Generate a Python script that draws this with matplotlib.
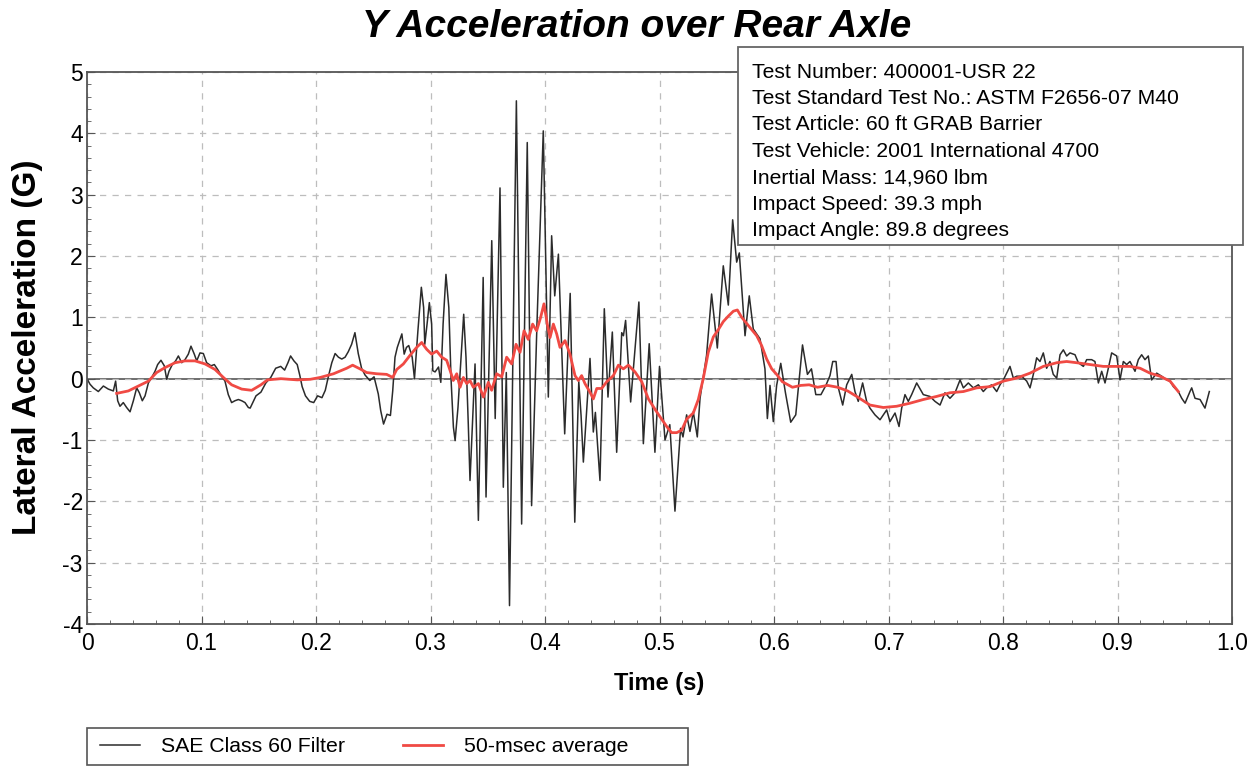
import matplotlib
matplotlib.use("Agg")
import matplotlib.pyplot as plt
from matplotlib.patches import Rectangle
from matplotlib.ticker import MultipleLocator

plt.rcParams['font.family'] = ['Liberation Sans', 'DejaVu Sans']

# SAE Class 60 filtered trace (time s, lateral accel G)
black_t = [0.000, 0.0026, 0.0055, 0.0099, 0.0143, 0.0186, 0.0230, 0.0250, 0.0268, 0.0288,
           0.0317, 0.0346, 0.0376, 0.0405, 0.0434, 0.0457, 0.0483, 0.0507, 0.0536, 0.0565,
           0.0594, 0.0617, 0.0646, 0.0675, 0.0696, 0.0716, 0.0745, 0.0774, 0.0798, 0.0827,
           0.0856, 0.0885, 0.0908, 0.0937, 0.0958, 0.0987, 0.1016, 0.1045, 0.1083, 0.1112,
           0.1141, 0.1176, 0.1205, 0.1234, 0.1263, 0.1292, 0.1322, 0.1351, 0.1380, 0.1409,
           0.1425, 0.1476, 0.1519, 0.1562, 0.1605, 0.1648, 0.1692, 0.1726, 0.1755, 0.1778,
           0.1807, 0.1836, 0.1859, 0.1879, 0.1908, 0.1945, 0.1980, 0.2014, 0.2052, 0.2081,
           0.2110, 0.2138, 0.2167, 0.2196, 0.2225, 0.2254, 0.2282, 0.2311, 0.2340, 0.2369,
           0.2398, 0.2428, 0.2470, 0.2507, 0.2544, 0.2565, 0.2590, 0.2620, 0.2650, 0.2670,
           0.2690, 0.2710, 0.2750, 0.2770, 0.2790, 0.2810, 0.2840, 0.2860, 0.2890, 0.2920,
           0.2940, 0.2950, 0.2970, 0.2990, 0.3010, 0.3020, 0.3040, 0.3070, 0.3090, 0.3110,
           0.3135, 0.3160, 0.3180, 0.3200, 0.3215, 0.3240, 0.3290, 0.3310, 0.3330, 0.3345,
           0.3370, 0.3389, 0.3418, 0.3460, 0.3485, 0.3535, 0.3565, 0.3607, 0.3636, 0.3662,
           0.3690, 0.3750, 0.3796, 0.3845, 0.3883, 0.3930, 0.3985, 0.4029, 0.4058, 0.4085,
           0.4117, 0.4172, 0.4220, 0.4260, 0.4295, 0.4315, 0.4335, 0.4393, 0.4422, 0.4440,
           0.4480, 0.4518, 0.4550, 0.4588, 0.4626, 0.4670, 0.4685, 0.4704, 0.4748, 0.4820,
           0.4859, 0.4910, 0.4960, 0.5000, 0.5048, 0.5090, 0.5135, 0.5184, 0.5205, 0.5237,
           0.5266, 0.5295, 0.5330, 0.5354, 0.5411, 0.5455, 0.5505, 0.5557, 0.5601, 0.5639,
           0.5674, 0.5697, 0.5747, 0.5784, 0.5819, 0.5878, 0.5921, 0.5942, 0.5965, 0.5994,
           0.6023, 0.6059, 0.6100, 0.6146, 0.6190, 0.6249, 0.6292, 0.6327, 0.6365, 0.6410,
           0.6453, 0.6489, 0.6513, 0.6542, 0.6562, 0.6600, 0.6635, 0.6679, 0.6707, 0.6736,
           0.6774, 0.6809, 0.6838, 0.6882, 0.6926, 0.6955, 0.6984, 0.7013, 0.7057, 0.7092,
           0.7115, 0.7144, 0.7173, 0.7202, 0.7246, 0.7304, 0.7362, 0.7406, 0.7450, 0.7493,
           0.7537, 0.7581, 0.7625, 0.7654, 0.7697, 0.7741, 0.7785, 0.7828, 0.7857, 0.7901,
           0.7945, 0.7974, 0.8003, 0.8061, 0.8090, 0.8120, 0.8163, 0.8207, 0.8236, 0.8265,
           0.8294, 0.8323, 0.8352, 0.8381, 0.8410, 0.8439, 0.8469, 0.8498, 0.8527, 0.8556,
           0.8585, 0.8629, 0.8658, 0.8702, 0.8731, 0.8774, 0.8803, 0.8833, 0.8862, 0.8891,
           0.8920, 0.8949, 0.8993, 0.9022, 0.9051, 0.9080, 0.9109, 0.9153, 0.9182, 0.9211,
           0.9240, 0.9269, 0.9298, 0.9342, 0.9386, 0.9430, 0.9459, 0.9488, 0.9531, 0.9561,
           0.9590, 0.9633, 0.9648, 0.9677, 0.9721, 0.9764, 0.9802]
black_g = [0.00, -0.09, -0.15, -0.21, -0.12, -0.17, -0.20, -0.04, -0.36, -0.45,
           -0.39, -0.47, -0.54, -0.36, -0.15, -0.23, -0.36, -0.28, -0.07, 0.02,
           0.12, 0.23, 0.30, 0.21, -0.01, 0.12, 0.23, 0.29, 0.37, 0.26,
           0.31, 0.40, 0.53, 0.40, 0.29, 0.42, 0.41, 0.26, 0.21, 0.23,
           0.15, 0.04, -0.04, -0.26, -0.39, -0.36, -0.34, -0.36, -0.39, -0.47,
           -0.48, -0.28, -0.22, -0.07, 0.02, 0.17, 0.20, 0.14, 0.26, 0.37,
           0.29, 0.23, 0.05, -0.13, -0.28, -0.37, -0.39, -0.28, -0.31, -0.19,
           0.05, 0.26, 0.41, 0.35, 0.32, 0.35, 0.44, 0.56, 0.75, 0.41,
           0.17, 0.06, -0.03, 0.03, -0.25, -0.52, -0.74, -0.58, -0.60, -0.20,
           0.35, 0.51, 0.73, 0.40, 0.51, 0.54, 0.35, 0.00, 0.78, 1.49,
           1.16, 0.56, 0.89, 1.24, 0.89, 0.13, 0.11, 0.19, -0.06, 0.89,
           1.70, 1.16, -0.03, -0.79, -1.01, -0.47, 1.05, 0.35, -0.74, -1.66,
           -0.60, 0.24, -2.31, 1.65, -1.93, 2.25, -0.65, 3.11, -1.77, 0.10,
           -3.70, 4.53, -2.37, 3.85, -2.07, 0.90, 4.04, -0.30, 2.33, 1.35,
           2.03, -0.90, 1.39, -2.34, -0.05, -0.60, -1.36, 0.33, -0.87, -0.55,
           -1.66, 1.14, -0.30, 0.76, -1.20, 0.75, 0.70, 0.95, -0.38, 1.25,
           -1.06, 0.57, -1.20, 0.20, -1.00, -0.75, -2.16, -0.81, -0.95, -0.59,
           -0.86, -0.54, -0.95, -0.32, 0.38, 1.38, 0.50, 1.84, 1.20, 2.59,
           1.90, 2.05, 0.70, 1.35, 0.81, 0.65, 0.16, -0.65, -0.11, -0.70,
           -0.11, 0.25, -0.23, -0.71, -0.59, 0.55, 0.07, 0.16, -0.26, -0.26,
           -0.11, 0.05, 0.28, 0.28, -0.15, -0.43, -0.10, 0.07, -0.21, -0.37,
           -0.07, -0.37, -0.48, -0.59, -0.67, -0.59, -0.51, -0.70, -0.56, -0.78,
           -0.48, -0.26, -0.37, -0.26, -0.07, -0.26, -0.29, -0.37, -0.43, -0.23,
           -0.32, -0.23, -0.02, -0.15, -0.07, -0.15, -0.10, -0.21, -0.15, -0.10,
           -0.21, -0.10, -0.02, 0.20, 0.01, 0.04, 0.04, -0.04, -0.15, 0.07,
           0.34, 0.28, 0.42, 0.17, 0.28, 0.07, 0.01, 0.39, 0.47, 0.37,
           0.42, 0.39, 0.26, 0.20, 0.31, 0.31, 0.28, -0.07, 0.12, -0.07,
           0.17, 0.42, 0.37, -0.02, 0.28, 0.23, 0.28, 0.12, 0.31, 0.39,
           0.31, 0.37, -0.02, 0.09, 0.04, -0.02, -0.04, -0.13, -0.21, -0.32,
           -0.40, -0.21, -0.15, -0.32, -0.34, -0.48, -0.21]

# 50-msec moving average trace
avg_t = [0.0259, 0.0361, 0.0448, 0.0536, 0.0608, 0.0681, 0.0769, 0.0856, 0.0943, 0.1031,
         0.1118, 0.1191, 0.1263, 0.1351, 0.1438, 0.1519, 0.1576, 0.1692, 0.1836, 0.1951,
         0.2037, 0.2153, 0.2268, 0.2320, 0.2384, 0.2442, 0.2530, 0.2617, 0.2670, 0.2705,
         0.2763, 0.2821, 0.2879, 0.2923, 0.2966, 0.3010, 0.3054, 0.3098, 0.3141, 0.3170,
         0.3199, 0.3229, 0.3258, 0.3287, 0.3316, 0.3345, 0.3374, 0.3418, 0.3462, 0.3505,
         0.3534, 0.3578, 0.3622, 0.3665, 0.3709, 0.3747, 0.3782, 0.3817, 0.3854, 0.3892,
         0.3927, 0.3962, 0.3991, 0.4020, 0.4044, 0.4073, 0.4102, 0.4131, 0.4175, 0.4218,
         0.4262, 0.4291, 0.4320, 0.4349, 0.4393, 0.4422, 0.4452, 0.4495, 0.4539, 0.4597,
         0.4641, 0.4684, 0.4728, 0.4786, 0.4845, 0.4903, 0.4961, 0.5004, 0.5063, 0.5106,
         0.5150, 0.5194, 0.5237, 0.5295, 0.5339, 0.5382, 0.5426, 0.5470, 0.5514, 0.5557,
         0.5601, 0.5645, 0.5680, 0.5718, 0.5761, 0.5805, 0.5849, 0.5892, 0.5936, 0.5980,
         0.6023, 0.6073, 0.6161, 0.6234, 0.6307, 0.6380, 0.6468, 0.6556, 0.6643, 0.6722,
         0.6838, 0.6955, 0.7071, 0.7188, 0.7304, 0.7420, 0.7537, 0.7654, 0.7770, 0.7886,
         0.8003, 0.8120, 0.8236, 0.8352, 0.8469, 0.8556, 0.8643, 0.8760, 0.8876, 0.8993,
         0.9109, 0.9197, 0.9284, 0.9371, 0.9459, 0.9531]
avg_g = [-0.24, -0.20, -0.12, -0.04, 0.10, 0.18, 0.26, 0.29, 0.29, 0.24,
         0.15, 0.02, -0.10, -0.17, -0.19, -0.10, -0.02, 0.00, -0.02, -0.01,
         0.02, 0.08, 0.17, 0.22, 0.16, 0.10, 0.08, 0.07, 0.02, 0.15,
         0.24, 0.38, 0.51, 0.59, 0.48, 0.40, 0.45, 0.35, 0.30, 0.14,
         -0.03, 0.08, -0.14, 0.02, -0.08, -0.03, -0.14, -0.08, -0.30, -0.06,
         -0.19, 0.08, 0.03, 0.35, 0.24, 0.56, 0.43, 0.78, 0.64, 0.89,
         0.78, 1.00, 1.22, 0.89, 0.67, 0.89, 0.73, 0.51, 0.62, 0.40,
         0.05, -0.03, 0.05, -0.08, -0.22, -0.33, -0.16, -0.16, -0.05, 0.05,
         0.22, 0.16, 0.22, 0.11, -0.05, -0.33, -0.50, -0.62, -0.78, -0.88,
         -0.88, -0.84, -0.66, -0.56, -0.34, 0.00, 0.43, 0.68, 0.80, 0.93,
         1.02, 1.10, 1.12, 1.00, 0.90, 0.80, 0.70, 0.54, 0.32, 0.16,
         0.07, -0.05, -0.14, -0.11, -0.10, -0.14, -0.11, -0.14, -0.20, -0.29,
         -0.43, -0.47, -0.45, -0.40, -0.34, -0.29, -0.23, -0.21, -0.15, -0.13,
         -0.04, 0.01, 0.09, 0.20, 0.26, 0.28, 0.26, 0.23, 0.20, 0.20,
         0.20, 0.17, 0.09, 0.04, -0.04, -0.21]

x_ticklabels = ['0', '0.1', '0.2', '0.3', '0.4', '0.5', '0.6', '0.7', '0.8', '0.9', '1.0']

info_lines = ["Test Number: 400001-USR 22",
              "Test Standard Test No.: ASTM F2656-07 M40",
              "Test Article: 60 ft GRAB Barrier",
              "Test Vehicle: 2001 International 4700",
              "Inertial Mass: 14,960 lbm",
              "Impact Speed: 39.3 mph",
              "Impact Angle: 89.8 degrees"]

W, H = 1260, 767
fig = plt.figure(figsize=(W / 100, H / 100), dpi=100)
ax = fig.add_axes([87 / W, 1 - 624 / H, (1232 - 87) / W, (624 - 72) / H])

ax.plot(black_t, black_g, color='#2b2b2b', lw=1.1, label='SAE Class 60 Filter')
ax.plot(avg_t, avg_g, color='#f04a44', lw=2.0, label='50-msec average')
ax.axhline(0, color='#555555', lw=1.2, zorder=1)

ax.set_xlim(0, 1.0)
ax.set_ylim(-4, 5)
ax.set_xticks([i / 10 for i in range(11)])
ax.set_xticklabels(x_ticklabels)
ax.xaxis.set_minor_locator(MultipleLocator(0.02))
ax.yaxis.set_major_locator(MultipleLocator(1))
ax.yaxis.set_minor_locator(MultipleLocator(0.2))
ax.yaxis.set_major_formatter(plt.FuncFormatter(lambda v, p: f'{v:.0f}'))
ax.tick_params(which='both', direction='in', color='#555555', labelsize=16.5)
ax.tick_params(which='major', length=6)
ax.tick_params(which='minor', length=3)
ax.tick_params(axis='x', pad=6)
ax.tick_params(axis='y', pad=3)
ax.grid(True, which='major', color='#bdbdbd', lw=0.9, ls=(0, (5, 5)))
for s in ax.spines.values():
    s.set_color('#555555')
    s.set_linewidth(1.3)

ax.set_xlabel('Time (s)', fontsize=17, fontweight='bold', labelpad=12)
fig.text(28 / W, 1 - 347 / H, 'Lateral Acceleration (G)', fontsize=24,
         fontweight='bold', rotation=90, ha='center', va='center')
fig.text(637 / W, 1 - 27 / H, 'Y Acceleration over Rear Axle', fontsize=28,
         fontweight='bold', style='italic', ha='center', va='center')

# information box
fig.patches.append(Rectangle((738 / W, 1 - 245 / H), (1243 - 738) / W, (245 - 47) / H,
                             transform=fig.transFigure, facecolor='white',
                             edgecolor='#666666', lw=1.3, zorder=5))
for i, line in enumerate(info_lines):
    fig.text(752 / W, 1 - (72 + i * 26.5) / H, line, fontsize=15.2, ha='left',
             va='center', zorder=6)

# legend below the plot, frame drawn separately
fig.patches.append(Rectangle((87 / W, 1 - 765 / H), (688 - 87) / W, (765 - 728) / H,
                             transform=fig.transFigure, facecolor='white',
                             edgecolor='#555555', lw=1.2, zorder=0))
fig.legend(loc='center left', bbox_to_anchor=(100 / W, 1 - 746.5 / H), ncol=2,
           frameon=False, fontsize=15.3, borderaxespad=0, borderpad=0,
           handlelength=1.9, handletextpad=0.95, columnspacing=2.75)

fig.savefig('out.png', dpi=100)
